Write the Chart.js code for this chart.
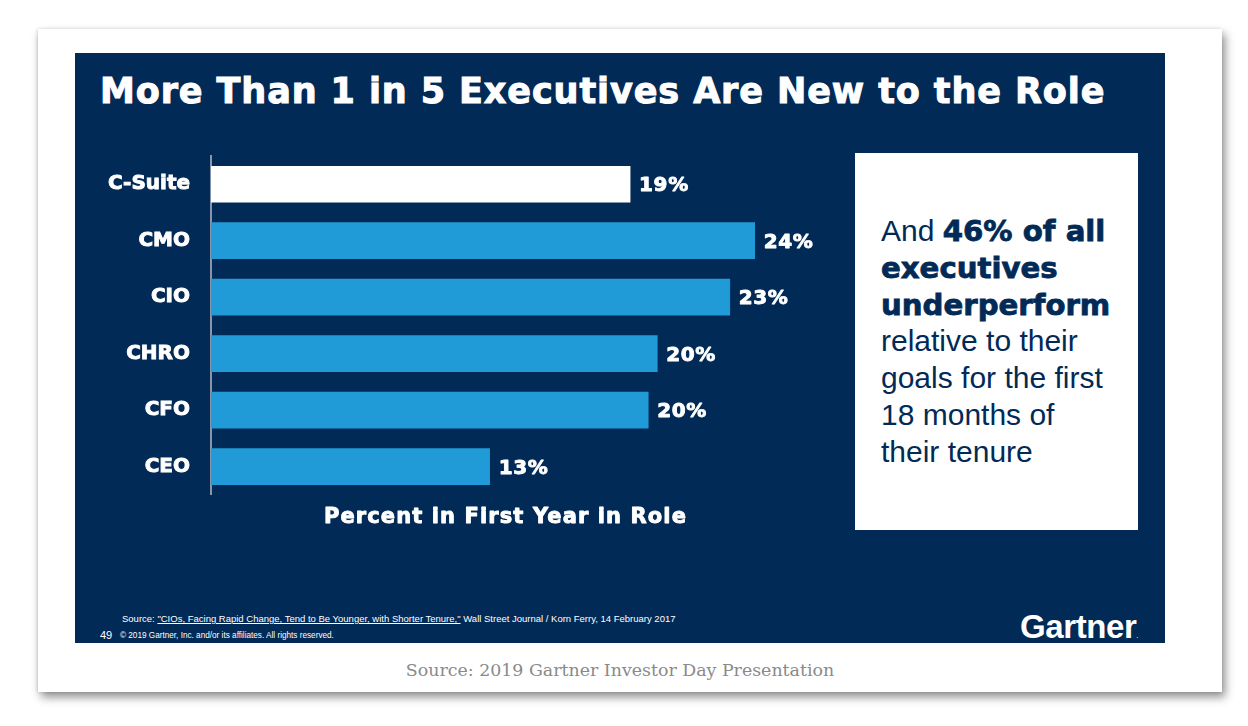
<!DOCTYPE html>
<html>
<head>
<meta charset="utf-8">
<script src="https://cdn.jsdelivr.net/npm/chart.js@4.4.0/dist/chart.umd.min.js"></script>
<style>
  html, body { margin: 0; padding: 0; background: #fff; }
  body { width: 1248px; height: 726px; position: relative; overflow: hidden; font-family: "Liberation Sans", Arial, sans-serif; }
  #card { position: absolute; left: 38px; top: 29px; width: 1184px; height: 663px; background: #fff;
          box-shadow: 3px 5px 9px rgba(0,0,0,0.45), -1px 0 3px rgba(0,0,0,0.12); }
  #slide { position: absolute; left: 75px; top: 53px; width: 1090px; height: 590px; background: #022a56; }
  #title { position: absolute; left: 100px; top: 71px; color: #fff; font-family: "DejaVu Sans", sans-serif; font-weight: bold;
           font-size: 35px; line-height: 40px; letter-spacing: 0.9px; white-space: nowrap; -webkit-text-stroke: 1px #fff; }
  #wrap { position: absolute; left: 100px; top: 123px; width: 760px; height: 411px; }
  #box { position: absolute; left: 855px; top: 153px; width: 283px; height: 377px; background: #fff; }
  #boxText { position: absolute; left: 881px; top: 213px; color: #022a56; font-size: 30px; line-height: 36.8px; white-space: nowrap; }
  #boxText b { font-family: "DejaVu Sans", sans-serif; font-weight: bold; font-size: 29.2px; -webkit-text-stroke: 0.8px #022a56; }
  #src { position: absolute; left: 122px; top: 613px; color: #fff; font-size: 9.5px; white-space: nowrap; }
  #src u { text-decoration: underline; }
  #pg { position: absolute; left: 100px; top: 629px; color: #fff; font-size: 11px; }
  #copy { position: absolute; left: 120px; top: 631px; color: #fff; font-size: 8.2px; white-space: nowrap; }
  #logo { position: absolute; left: 1020px; top: 608px; color: #fff; font-size: 33px; font-weight: bold; letter-spacing: -0.4px; }
  #logo span { font-size: 6px; }
  #caption { position: absolute; left: -4px; width: 1248px; top: 660px; text-align: center; color: #8a8a8a;
             font-family: "DejaVu Serif", "Liberation Serif", serif; font-size: 17.4px; }
</style>
</head>
<body>
<div id="card"></div>
<div id="slide"></div>
<div id="title">More Than 1 in 5 Executives Are New to the Role</div>
<div id="wrap"><canvas id="chart"></canvas></div>
<div id="box"></div>
<div id="boxText">And <b>46% of all</b><br><b>executives</b><br><b>underperform</b><br>relative to their<br>goals for the first<br>18 months of<br>their tenure</div>
<div id="src">Source: <u>"CIOs, Facing Rapid Change, Tend to Be Younger, with Shorter Tenure,"</u> Wall Street Journal / Korn Ferry, 14 February 2017</div>
<div id="pg">49</div>
<div id="copy">© 2019 Gartner, Inc. and/or its affiliates. All rights reserved.</div>
<div id="logo">Gartner<span>.</span></div>
<div id="caption">Source: 2019 Gartner Investor Day Presentation</div>

<script>
// roles and percent in first year in role (bar lengths)
const roles = ['C-Suite', 'CMO', 'CIO', 'CHRO', 'CFO', 'CEO'];
const percents = [18.5, 24, 22.9, 19.7, 19.3, 12.3];
const valueLabels = ['19%', '24%', '23%', '20%', '20%', '13%'];
const axisTitle = 'Percent in First Year in Role';

const NAVY = '#022a56';
const BLUE = '#219bd7';
const HEAVY = '"DejaVu Sans", sans-serif';

// heavy white text: fill plus a thin stroke so it looks like the slide's black-weight font
function heavyText(c, txt, x, y, size, spacing, align) {
  c.save();
  c.font = 'bold ' + size + 'px ' + HEAVY;
  c.letterSpacing = spacing + 'px';
  c.textAlign = align;
  c.textBaseline = 'middle';
  c.fillStyle = '#fff';
  c.strokeStyle = '#fff';
  c.lineWidth = 0.9;
  c.lineJoin = 'round';
  c.fillText(txt, x, y);
  c.strokeText(txt, x, y);
  c.restore();
}

// % labels past the bar ends, and the axis title under the plot
const barLabels = {
  id: 'barLabels',
  afterDatasetsDraw(chart) {
    const c = chart.ctx;
    chart.getDatasetMeta(0).data.forEach((bar, i) => {
      heavyText(c, valueLabels[i], bar.x + 9, bar.y + 2, 20, 0.6, 'left');
    });
    const xs = chart.scales.x;
    heavyText(c, axisTitle, (xs.left + xs.right) / 2, chart.chartArea.bottom + 23, 21, 1.1, 'center');
  }
};

new Chart(document.getElementById('chart'), {
  type: 'bar',
  data: {
    labels: roles,
    datasets: [{
      data: percents,
      backgroundColor: roles.map((r, i) => i === 0 ? '#ffffff' : BLUE),
      barThickness: 36
    }]
  },
  options: {
    indexAxis: 'y',
    responsive: true,
    maintainAspectRatio: false,
    animation: false,
    layout: { padding: { top: 5, right: 60, left: 0, bottom: 4 } },
    plugins: { legend: { display: false }, tooltip: { enabled: false } },
    scales: {
      x: {
        min: 0, max: 26,
        grid: { display: false, drawTicks: false },
        border: { display: false },
        ticks: { display: false },
        title: {
          display: true,
          text: axisTitle,
          color: 'rgba(0,0,0,0)',
          font: { family: HEAVY, size: 21, weight: 'bold' },
          padding: { top: 10, bottom: 0 }
        }
      },
      y: {
        grid: { display: false, drawTicks: false },
        border: { display: true, color: '#8796ad', width: 2 },
        ticks: {
          color: '#fff',
          padding: 21,
          textStrokeColor: '#fff',
          textStrokeWidth: 0.9,
          font: { family: HEAVY, size: 20, weight: 'bold' }
        },
        afterFit(scale) { scale.width = 111; }
      }
    }
  },
  plugins: [barLabels]
});
</script>
</body>
</html>
